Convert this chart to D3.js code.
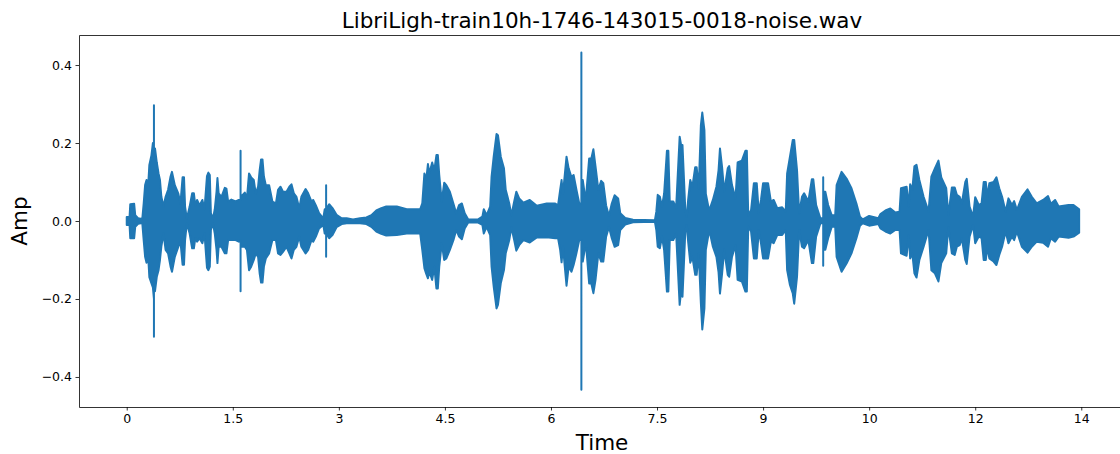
<!DOCTYPE html>
<html>
<head>
<meta charset="utf-8">
<script src="https://cdn.jsdelivr.net/npm/d3@7"></script>
<style>
    html, body { margin: 0; padding: 0; background: #fff; overflow: hidden; }
    svg { display: block; }
    text { font-family: "DejaVu Sans", sans-serif; fill: #000; }
</style>
</head>
<body>
<svg id="chart" width="1120" height="454"></svg>
<script>
const title = 'LibriLigh-train10h-1746-143015-0018-noise.wav';
const xName = 'Time';
const yName = 'Amp';

// tick places and what is printed under them (the labels are rounded in the original)
const xTickValues = [0, 1.5, 3, 4.5, 6, 7.5, 9, 10.5, 12, 13.5];
const xTickLabels = ['0', '1.5', '3', '4.5', '6', '7.5', '9', '10', '12', '14'];
const yTickValues = [-0.4, -0.2, 0, 0.2, 0.4];

// waveform outline, seconds
const times = [
    0, .04, .05, .105, .12, .16, .22, .24, .26, .28,
    .30, .32, .35, .37, .385, .385, .385, .40, .425, .45,
    .47, .49, .52, .55, .585, .62, .64, .68, .73, .76,
    .79, .81, .825, .85, .89, .925, .95, .97, .995, 1.03,
    1.07, 1.10, 1.135, 1.155, 1.175, 1.19, 1.22, 1.245, 1.27, 1.283,
    1.30, 1.34, 1.387, 1.41, 1.434, 1.48, 1.54, 1.585, 1.61, 1.61,
    1.61, 1.637, 1.67, 1.70, 1.73, 1.76, 1.797, 1.825, 1.858, 1.88,
    1.90, 1.92, 1.94, 1.967, 2.014, 2.06, 2.11, 2.14, 2.175, 2.21,
    2.26, 2.30, 2.33, 2.363, 2.40, 2.44, 2.47, 2.53, 2.566, 2.613,
    2.637, 2.675, 2.72, 2.78, 2.80, 2.82, 2.82, 2.82, 2.863, 2.91,
    2.967, 3.04, 3.11, 3.2, 3.3, 3.39, 3.46, 3.53, 3.60, 3.67,
    3.82, 3.96, 4.15, 4.18, 4.21, 4.235, 4.26, 4.28, 4.32, 4.35,
    4.38, 4.40, 4.42, 4.455, 4.49, 4.52, 4.57, 4.62, 4.66, 4.70,
    4.74, 4.78, 4.83, 4.97, 5.03, 5.05, 5.09, 5.14, 5.16, 5.19,
    5.23, 5.25, 5.29, 5.335, 5.36, 5.41, 5.44, 5.48, 5.51, 5.55,
    5.61, 5.70, 5.80, 5.94, 6.06, 6.10, 6.13, 6.15, 6.17, 6.22,
    6.25, 6.29, 6.32, 6.36, 6.40, 6.43, 6.43, 6.43, 6.45, 6.48,
    6.50, 6.54, 6.57, 6.60, 6.63, 6.67, 6.71, 6.74, 6.78, 6.82,
    6.86, 6.90, 6.95, 6.98, 7.05, 7.16, 7.47, 7.49, 7.51, 7.54,
    7.57, 7.60, 7.64, 7.66, 7.68, 7.73, 7.77, 7.82, 7.84, 7.86,
    7.90, 7.92, 7.94, 7.97, 8.00, 8.04, 8.06, 8.09, 8.12, 8.14,
    8.17, 8.19, 8.23, 8.25, 8.29, 8.34, 8.37, 8.39, 8.42, 8.45,
    8.50, 8.52, 8.56, 8.61, 8.64, 8.70, 8.75, 8.77, 8.79, 8.83,
    8.87, 8.91, 8.94, 8.97, 9.00, 9.07, 9.11, 9.15, 9.20, 9.27,
    9.32, 9.34, 9.38, 9.42, 9.44, 9.48, 9.51, 9.55, 9.58, 9.64,
    9.69, 9.71, 9.75, 9.81, 9.85, 9.85, 9.85, 9.88, 9.92, 9.97,
    10.02, 10.04, 10.11, 10.18, 10.25, 10.32, 10.37, 10.41, 10.50, 10.63,
    10.66, 10.73, 10.80, 10.87, 10.93, 10.95, 11.03, 11.06, 11.08, 11.11,
    11.14, 11.17, 11.21, 11.27, 11.34, 11.38, 11.43, 11.48, 11.52, 11.59,
    11.62, 11.67, 11.71, 11.74, 11.78, 11.81, 11.86, 11.88, 11.92, 11.97,
    12.00, 12.05, 12.09, 12.12, 12.15, 12.17, 12.20, 12.26, 12.30, 12.34,
    12.38, 12.43, 12.47, 12.52, 12.55, 12.59, 12.66, 12.74, 12.80, 12.87,
    12.96, 13.03, 13.07, 13.13, 13.18, 13.32, 13.39, 13.47
];

const upperAmp = [
    .01, .01, .043, .044, .015, .007, .005, .045, .092, .105,
    .08, .144, .169, .2, .2, .297, .186, .186, .15, .122,
    .105, .062, .037, .062, .08, .114, .126, .092, .07, .045,
    .112, .112, .037, .006, .037, .071, .071, .04, .054, .04,
    .054, .03, .115, .124, .118, .02, .006, .03, .075, .11,
    .071, .062, .085, .083, .05, .055, .05, .054, .054, .18,
    .066, .066, .073, .058, .122, .112, .105, .07, .088, .13,
    .158, .158, .114, .092, .092, .05, .045, .08, .088, .075,
    .075, .088, .094, .071, .062, .032, .062, .082, .071, .05,
    .054, .04, .02, .007, .03, .03, .092, .03, .043, .033,
    .016, .007, .007, .004, .007, .009, .015, .027, .033, .037,
    .037, .03, .03, .045, .122, .105, .146, .122, .15, .13,
    .169, .169, .118, .05, .098, .092, .075, .045, .02, .041,
    .045, .02, .004, .004, .011, .03, .015, .037, .114, .165,
    .223, .22, .165, .135, .08, .045, .015, .05, .075, .058,
    .047, .054, .039, .045, .045, .04, .08, .105, .07, .165,
    .135, .112, .118, .08, .045, .045, .432, .08, .105, .066,
    .071, .16, .16, .184, .14, .08, .103, .097, .04, .013,
    .045, .066, .058, .02, .008, .003, .002, .024, .067, .062,
    .037, .07, .18, .18, .05, .05, .033, .216, .195, .195,
    .028, .011, .054, .105, .088, .138, .138, .084, .245, .278,
    .233, .07, .033, .033, .054, .088, .13, .186, .138, .075,
    .135, .141, .092, .058, .15, .155, .18, .18, .015, .028,
    .097, .097, .02, .054, .097, .097, .05, .054, .033, .035,
    .024, .122, .165, .208, .208, .13, .02, .062, .071, .05,
    .107, .107, .041, .007, .007, .112, .075, .075, .041, .015,
    .015, .092, .126, .109, .084, .045, .011, .004, .013, .007,
    .018, .027, .032, .022, .024, .084, .088, .037, .094, .08,
    .14, .144, .105, .062, .024, .114, .135, .155, .112, .084,
    .015, .086, .086, .067, .062, .045, .1, .108, .037, .011,
    .061, .041, .045, .1, .1, .062, .097, .1, .112, .084,
    .062, .024, .058, .041, .051, .028, .062, .081, .062, .045,
    .054, .064, .044, .054, .037, .041, .041, .03
];

const lowerAmp = [
    -.01, -.01, -.044, -.044, -.015, -.007, -.005, -.05, -.092, -.107,
    -.08, -.144, -.16, -.17, -.2, -.297, -.18, -.18, -.143, -.126,
    -.1, -.065, -.032, -.074, -.083, -.117, -.13, -.092, -.066, -.053,
    -.112, -.112, -.049, -.006, -.032, -.07, -.07, -.044, -.053, -.044,
    -.057, -.032, -.12, -.126, -.117, -.023, -.006, -.032, -.074, -.108,
    -.066, -.066, -.083, -.083, -.049, -.049, -.049, -.053, -.05, -.18,
    -.066, -.066, -.066, -.074, -.126, -.117, -.1, -.083, -.092, -.134,
    -.158, -.158, -.117, -.096, -.083, -.049, -.049, -.083, -.087, -.079,
    -.066, -.083, -.096, -.074, -.066, -.04, -.066, -.083, -.074, -.049,
    -.053, -.04, -.019, -.01, -.032, -.03, -.092, -.03, -.044, -.036,
    -.016, -.008, -.006, -.006, -.006, -.008, -.015, -.027, -.033, -.037,
    -.036, -.032, -.032, -.074, -.121, -.135, -.147, -.13, -.151, -.117,
    -.173, -.173, -.117, -.057, -.1, -.096, -.074, -.049, -.023, -.04,
    -.047, -.019, -.004, -.004, -.01, -.032, -.015, -.036, -.117, -.168,
    -.224, -.215, -.16, -.126, -.083, -.049, -.016, -.049, -.076, -.062,
    -.049, -.055, -.042, -.042, -.044, -.044, -.074, -.106, -.066, -.166,
    -.117, -.13, -.113, -.083, -.049, -.049, -.433, -.08, -.104, -.07,
    -.07, -.16, -.16, -.185, -.151, -.083, -.104, -.104, -.04, -.015,
    -.044, -.066, -.062, -.023, -.009, -.003, -.002, -.023, -.066, -.07,
    -.04, -.074, -.181, -.181, -.049, -.049, -.032, -.215, -.18, -.194,
    -.027, -.01, -.053, -.107, -.092, -.138, -.138, -.083, -.21, -.278,
    -.224, -.074, -.032, -.032, -.066, -.092, -.131, -.186, -.135, -.074,
    -.138, -.143, -.092, -.062, -.151, -.155, -.181, -.181, -.015, -.027,
    -.096, -.096, -.023, -.057, -.096, -.096, -.053, -.057, -.036, -.036,
    -.023, -.126, -.164, -.186, -.212, -.143, -.023, -.066, -.07, -.049,
    -.108, -.108, -.04, -.006, -.006, -.115, -.074, -.074, -.044, -.015,
    -.015, -.092, -.13, -.109, -.083, -.044, -.012, -.006, -.012, -.008,
    -.019, -.027, -.032, -.023, -.023, -.083, -.089, -.036, -.096, -.083,
    -.134, -.145, -.1, -.066, -.023, -.126, -.134, -.155, -.108, -.083,
    -.016, -.083, -.087, -.066, -.062, -.044, -.1, -.11, -.04, -.01,
    -.057, -.04, -.044, -.1, -.1, -.066, -.096, -.104, -.113, -.087,
    -.066, -.027, -.057, -.04, -.049, -.027, -.066, -.081, -.066, -.053,
    -.056, -.066, -.044, -.053, -.04, -.043, -.04, -.03
];

const svg = d3.select('#chart');

// the axes run a little past the right edge of the window
const plot = { left: 79, right: 1129, top: 35, bottom: 407 };

const x = d3.scaleLinear().domain([-0.675, 14.175]).range([plot.left, plot.right]);
const y = d3.scaleLinear().domain([-0.477, 0.477]).range([plot.bottom, plot.top]);

const wave = d3.area()
    .x(i => x(times[i]))
    .y0(i => y(lowerAmp[i]))
    .y1(i => y(upperAmp[i]));

svg.append('path')
    .datum(d3.range(times.length))
    .attr('d', wave)
    .attr('fill', '#1f77b4')
    .attr('stroke', '#1f77b4')
    .attr('stroke-width', 2)
    .attr('stroke-linejoin', 'round');

const xAxis = d3.axisBottom(x)
    .tickValues(xTickValues)
    .tickFormat((d, i) => xTickLabels[i])
    .tickSizeInner(3.5)
    .tickSizeOuter(0)
    .tickPadding(3.5);

const yAxis = d3.axisLeft(y)
    .tickValues(yTickValues)
    .tickFormat(d3.format('.1f'))
    .tickSizeInner(3.5)
    .tickSizeOuter(0)
    .tickPadding(3.5);

const gx = svg.append('g').attr('transform', `translate(0,${plot.bottom})`).call(xAxis);
const gy = svg.append('g').attr('transform', `translate(${plot.left},0)`).call(yAxis);

[gx, gy].forEach(g => {
    g.selectAll('text').attr('font-size', 12.5);
    g.selectAll('line').attr('stroke', '#000').attr('stroke-width', 0.8);
    g.select('.domain').attr('stroke', '#000').attr('stroke-width', 0.8);
});

// top spine
svg.append('g')
    .attr('transform', `translate(0,${plot.top})`)
    .call(d3.axisTop(x).tickValues([]).tickSizeOuter(0))
    .select('.domain')
    .attr('stroke', '#000')
    .attr('stroke-width', 0.8);

svg.append('text')
    .text(title)
    .attr('x', 602)
    .attr('y', 27.5)
    .attr('text-anchor', 'middle')
    .attr('font-size', 21.5);

svg.append('text')
    .text(xName)
    .attr('x', 602)
    .attr('y', 450)
    .attr('text-anchor', 'middle')
    .attr('font-size', 21.5);

svg.append('text')
    .text(yName)
    .attr('transform', 'translate(27,221) rotate(-90)')
    .attr('text-anchor', 'middle')
    .attr('font-size', 21.5);
</script>
</body>
</html>
